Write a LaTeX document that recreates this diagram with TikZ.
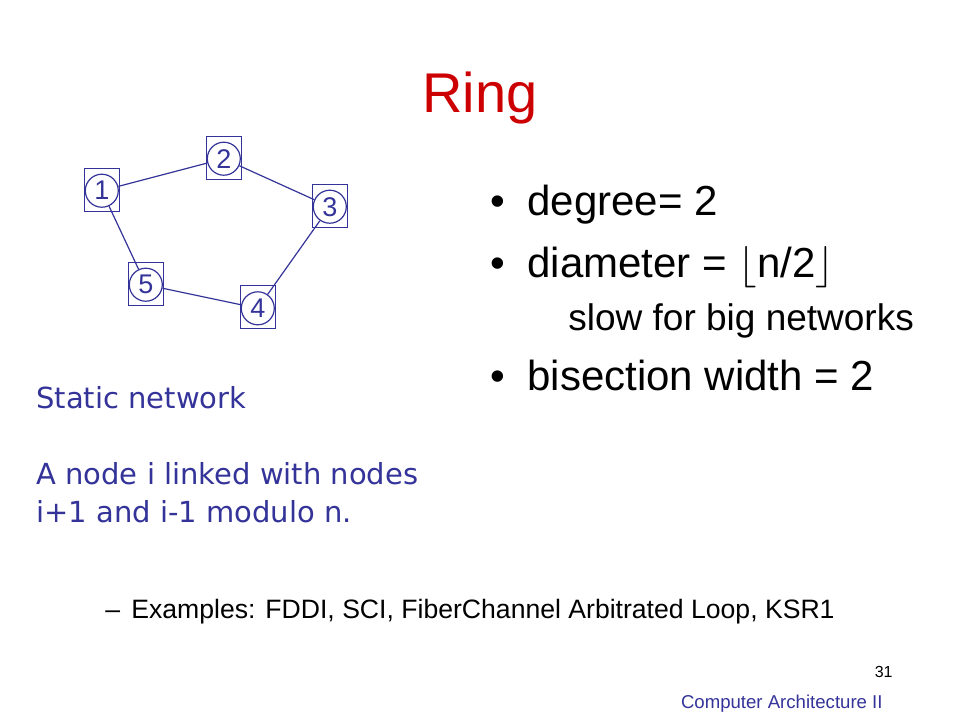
\documentclass[tikz,border=0pt]{standalone}
\usepackage{fontspec}
\setmainfont{Liberation Sans}
\newfontfamily\notefont{DejaVu Sans}
\definecolor{RingBlue}{RGB}{51,51,153}
\definecolor{TitleRed}{RGB}{204,0,0}

\tikzset{
  ringbox/.style = {draw = RingBlue, line width = 0.6pt, minimum width = 17.5pt, minimum height = 21.5pt, inner sep = 0pt},
  ringnode/.style = {circle, draw = RingBlue, line width = 0.6pt, minimum size = 16.5pt, inner sep = 0pt, text = RingBlue, font = \fontsize{13.5}{15}\selectfont},
  ringline/.style = {draw = RingBlue, line width = 0.6pt},
  bigitem/.style = {anchor = base west, inner sep = 0pt, font = \fontsize{21}{25}\selectfont},
  subitem/.style = {anchor = base west, inner sep = 0pt, font = \fontsize{18.5}{22}\selectfont},
  note/.style = {anchor = base west, inner sep = 0pt, text = RingBlue, font = \notefont\fontsize{14.5}{19}\selectfont}
}

\begin{document}
\begin{tikzpicture}[x = 0.5pt, y = -0.5pt]
\useasboundingbox (0, 0) rectangle (960, 720);

\node[anchor = base, inner sep = 0pt, text = TitleRed, font = \fontsize{28}{34}\selectfont] (title) at (480, 112) {Ring};

\foreach \i/\x/\y in {1/101.8/189.7, 2/223.8/157.7, 3/329.8/205.7, 4/257.8/307.3, 5/145.8/283.7}
{
  \node[ringbox] (box\i) at (\x, \y) {};
  \node[ringnode] (n\i) at (\x, \y + 1) {\i};
}
\draw[ringline] (n1) -- (n2) -- (n3) -- (n4) -- (n5) -- (n1);

\node[bigitem] (dot1) at (490, 215) {•};
\node[bigitem] (degree) at (527, 215) {degree= 2};
\node[bigitem] (dot2) at (490, 277) {•};
\node[bigitem] (diameter) at (527, 277) {diameter = $\big\lfloor$n/2$\big\rfloor$};
\node[subitem] (slow) at (568, 330) {slow for big networks};
\node[bigitem] (dot3) at (490, 390) {•};
\node[bigitem] (bisection) at (527, 390) {bisection width = 2};

\node[note] (static) at (36, 408) {Static network};
\node[note] (linked) at (36, 484) {A node i linked with nodes};
\node[note] (modulo) at (36, 522) {i+1 and i-1 modulo n.};

\node[anchor = base west, inner sep = 0pt, font = \fontsize{13.3}{16}\selectfont] (dash) at (105, 618) {–};
\node[anchor = base west, inner sep = 0pt, font = \fontsize{13.3}{16}\selectfont] (examples) at (131, 618) {Examples: FDDI, SCI, FiberChannel Arbitrated Loop, KSR1};

\node[anchor = base east, inner sep = 0pt, font = \fontsize{8}{10}\selectfont] (page) at (893, 677) {31};
\node[anchor = base east, inner sep = 0pt, text = RingBlue, font = \fontsize{9.3}{11}\selectfont] (course) at (883, 708) {Computer Architecture II};

\end{tikzpicture}
\end{document}
